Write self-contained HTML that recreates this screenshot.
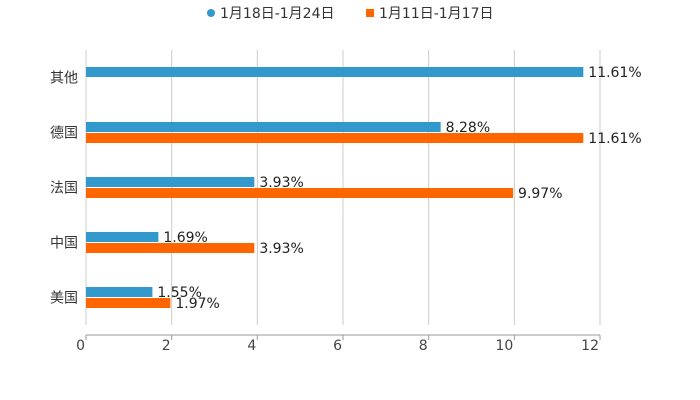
<!DOCTYPE html>
<html><head><meta charset="utf-8"><style>
html,body{margin:0;padding:0;background:#fff;}
svg{display:block;font-family:"DejaVu Sans","Noto Sans CJK SC",sans-serif;}
</style></head><body>
<svg id="chart" width="700" height="400"></svg>
<script>
const categories=["其他","德国","法国","中国","美国"];
const series1=[11.61,8.28,3.93,1.69,1.55];
const series2=[null,11.61,9.97,3.93,1.97];
const seriesNames=["1月18日-1月24日","1月11日-1月17日"];
const xTicks=[0,2,4,6,8,10,12];
const colors=["#3399cc","#ff6600"];
const NS="http://www.w3.org/2000/svg";
const svg=document.getElementById('chart');
const x0=86,x1=600,plotTop=50,bandH=55;
const xs=v=>x0+(v/12)*(x1-x0);
const yc=i=>plotTop+bandH*i+27.5;
function mk(t,a,txt){const e=document.createElementNS(NS,t);for(const k in a)e.setAttribute(k,a[k]);if(txt!=null)e.textContent=txt;svg.appendChild(e);return e;}
xTicks.forEach(t=>{
 const g=mk('line',{x1:xs(t),x2:xs(t),y1:plotTop,y2:325,stroke:'#ccc','stroke-width':1});
 
 
 const tk=mk('line',{x1:xs(t),x2:xs(t),y1:335,y2:340,stroke:'#999','stroke-width':1});
 
 
 const l=mk('text',{x:xs(t)-1,y:350,'text-anchor':'end','font-size':14,fill:'#444'},String(t));
 
 
});
const ax=mk('line',{x1:x0,x2:x1,y1:335,y2:335,stroke:'#999','stroke-width':1});


categories.forEach((c,i)=>{
 const l=mk('text',{x:78,y:yc(i)+5,'text-anchor':'end','font-size':14,fill:'#333'},c);
 
 
 [series1,series2].forEach((s,si)=>{
  const v=s[i]; if(v==null) return;
  const y=si===0?yc(i)-10.5:yc(i)+0.5;
  const b=mk('rect',{x:x0,y:y,width:xs(v)-x0,height:10,fill:colors[si]});
  
  
  const t=mk('text',{x:xs(v)+5,y:y+10,'font-size':14,fill:'#222'},v.toFixed(2)+'%');
  
  
 });
});
const c=mk('circle',{cx:211,cy:13,r:4,fill:colors[0]});


const t1=mk('text',{x:220,y:18,'font-size':14,fill:'#333'},seriesNames[0]);


const r=mk('rect',{x:366,y:9,width:8,height:8,fill:colors[1]});


const t2=mk('text',{x:379,y:18,'font-size':14,fill:'#333'},seriesNames[1]);


</script>
</body></html>
